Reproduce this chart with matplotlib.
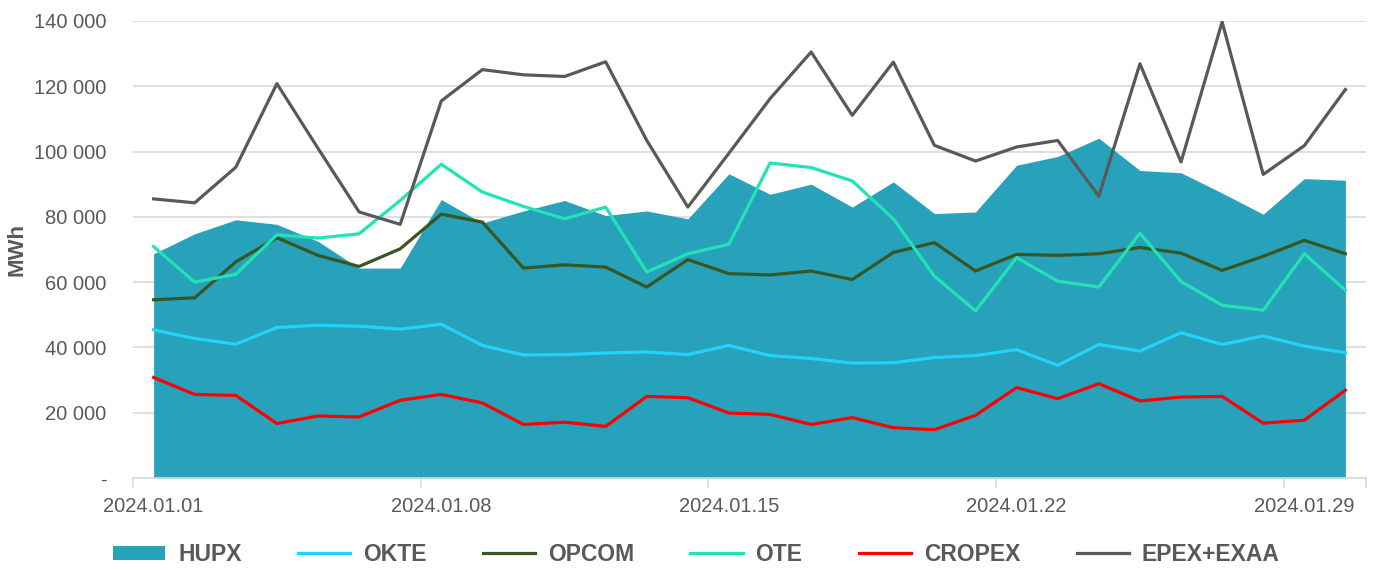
import numpy as np
import pandas as pd
import matplotlib
matplotlib.use("Agg")
import matplotlib.pyplot as plt
import matplotlib.dates as mdates
from matplotlib.ticker import FuncFormatter, FixedLocator

plt.rcParams['font.family'] = ['Liberation Sans', 'DejaVu Sans']

# daily traded volumes, MWh (January 2024)
days = pd.date_range("2024-01-01", "2024-01-30", freq="D")

hupx = [68700, 74800, 79100, 77700, 72500, 64300, 64300, 85300, 78100, 81800,
        85000, 80400, 81800, 79400, 93200, 86900, 90000, 83000, 90700, 81000,
        81500, 95800, 98500, 104100, 94200, 93500, 87300, 80800, 91700, 91200]
okte = [45400, 42700, 41000, 46100, 46800, 46500, 45600, 47100, 40600, 37700,
        37800, 38300, 38600, 37800, 40600, 37500, 36600, 35200, 35300, 36900,
        37500, 39300, 34500, 40900, 38900, 44500, 40900, 43500, 40400, 38400]
opcom = [54600, 55200, 66200, 73600, 68200, 64800, 70200, 80800, 78400, 64300,
         65300, 64600, 58500, 66900, 62600, 62200, 63400, 60800, 69100, 72100,
         63400, 68500, 68200, 68700, 70600, 68900, 63600, 67900, 72800, 68700]
ote = [70900, 60000, 62400, 74500, 73500, 74800, 85000, 96100, 87600, 83200,
       79400, 83000, 63100, 68700, 71600, 96500, 95100, 91000, 79400, 61800,
       51200, 67500, 60300, 58500, 75000, 60200, 52900, 51400, 68700, 57500]
cropex = [30800, 25600, 25300, 16700, 19000, 18700, 23800, 25600, 23000, 16400,
          17100, 15800, 25000, 24600, 19900, 19500, 16400, 18500, 15400, 14800,
          19200, 27700, 24300, 28900, 23600, 24800, 25000, 16800, 17700, 26900]
epex = [85500, 84300, 95200, 120800, 101000, 81500, 77700, 115500, 125100, 123500,
        123000, 127500, 103400, 83000, 99500, 116200, 130500, 111100, 127400, 101900,
        97100, 101400, 103400, 86300, 126900, 96800, 139700, 93000, 101800, 119000]

fig = plt.figure(figsize=(13.76, 5.70), dpi=100)
ax = fig.add_axes([0.0967, 0.1614, 0.896, 0.8018])

lw = 2.3
ax.fill_between(days, hupx, 0, color="#28a1ba", linewidth=0, label="HUPX", zorder=2)
ax.plot(days, okte, color="#22d3fb", lw=lw, label="OKTE", zorder=3)
ax.plot(days, opcom, color="#375623", lw=lw, label="OPCOM", zorder=3)
ax.plot(days, ote, color="#21e3b5", lw=lw, label="OTE", zorder=3)
ax.plot(days, cropex, color="#ff0000", lw=lw, label="CROPEX", zorder=3)
ax.plot(days, epex, color="#595959", lw=lw, label="EPEX+EXAA", zorder=3)

half = pd.Timedelta(hours=12)
ax.set_xlim(days[0] - half, days[-1] + half)
ax.set_ylim(0, 140000)

# y axis
ax.set_yticks(np.arange(0, 140001, 20000))
ax.yaxis.set_major_formatter(FuncFormatter(
    lambda v, p: "-" if v == 0 else f"{int(v):,}".replace(",", " ")))
ax.grid(axis="y", color="#d9d9d9", lw=1.2, zorder=0)
ax.tick_params(axis="y", length=0, labelsize=14.5, labelcolor="#595959", pad=19)
ax.set_ylabel("MWh", fontsize=16, fontweight="bold", color="#595959", labelpad=5)

# x axis: tick marks between categories, labels on weekly days
bounds = [days[i] - half for i in (0, 7, 14, 21, 28)] + [days[-1] + half]
ax.xaxis.set_major_locator(FixedLocator(mdates.date2num(bounds)))
ax.xaxis.set_major_formatter(FuncFormatter(lambda v, p: ""))
ax.xaxis.set_minor_locator(FixedLocator(mdates.date2num([days[i] for i in (0, 7, 14, 21, 28)])))
ax.xaxis.set_minor_formatter(mdates.DateFormatter("%Y.%m.%d"))
ax.tick_params(axis="x", which="major", length=7, color="#d9d9d9", width=1.2)
ax.tick_params(axis="x", which="minor", length=0, labelsize=14.5, labelcolor="#595959", pad=14)

for s in ["top", "right", "left"]:
    ax.spines[s].set_visible(False)
ax.spines["bottom"].set_color("#d9d9d9")
ax.spines["bottom"].set_linewidth(1.2)

handles, labels = ax.get_legend_handles_labels()
leg = fig.legend(handles, labels, loc="center", bbox_to_anchor=(0.506, 0.027), ncol=6,
                 frameon=False, handlelength=2.3, handleheight=0.6, handletextpad=0.55,
                 columnspacing=2.45, prop={"weight": "bold", "size": 16.5})
for t in leg.get_texts():
    t.set_color("#595959")

fig.savefig("out.png", dpi=100)
